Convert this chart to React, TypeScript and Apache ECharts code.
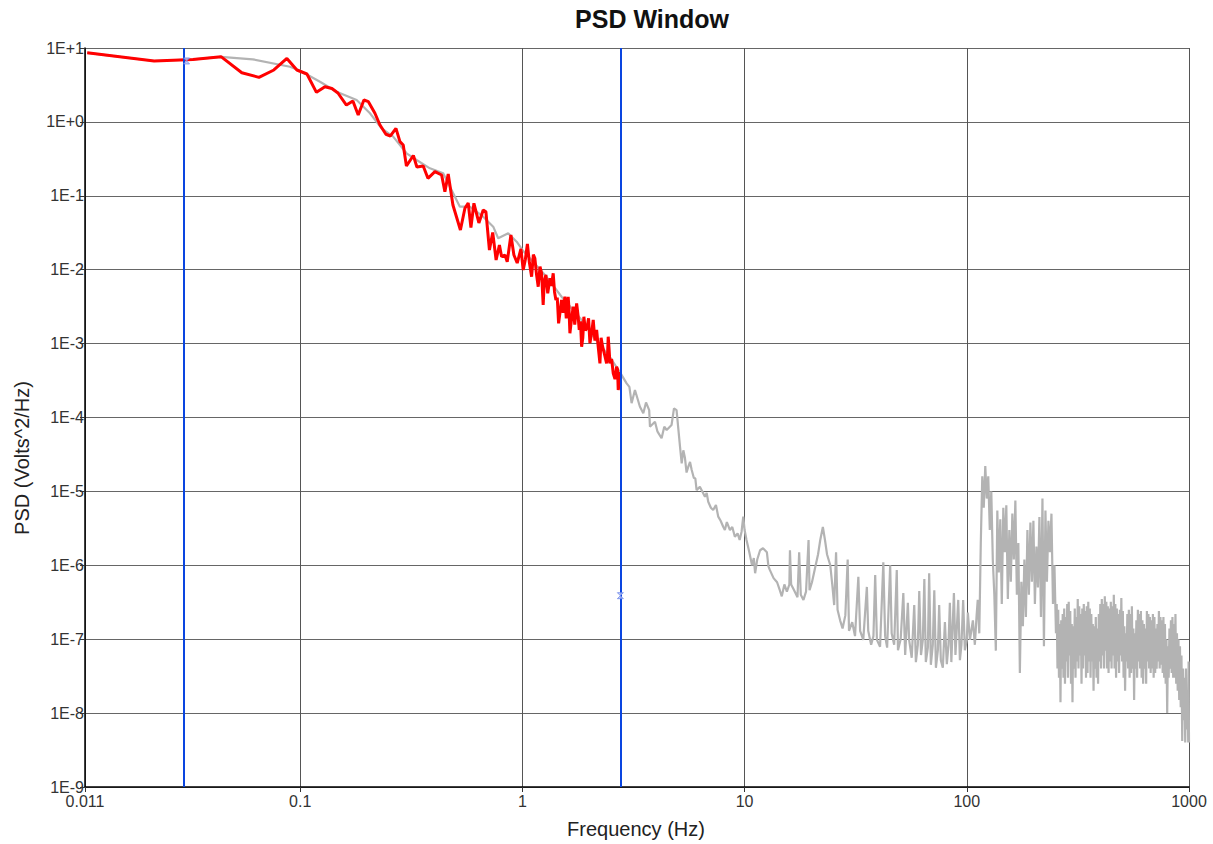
import React, { useEffect, useRef } from "react";
import * as echarts from "echarts";

// Full spectrum (gray), 0.011 – 10 Hz
const grayFreqLow = [
  0.011, 0.022, 0.033, 0.044, 0.0612, 0.0899, 0.1, 0.1227, 0.1458, 0.1794, 0.206, 0.2324, 0.262, 0.301, 0.334, 0.3834,
  0.44, 0.48, 0.523, 0.58, 0.666, 0.739, 0.778, 0.863, 0.942, 1.0, 1.263, 1.501, 1.815, 2.142, 2.476, 2.767,
  2.944, 3.03, 3.1, 3.21, 3.38, 3.5, 3.6, 3.72, 3.75, 3.95, 4.05, 4.23, 4.35, 4.46, 4.69, 4.81,
  4.94, 5.12, 5.21, 5.3, 5.39, 5.48, 5.58, 5.68, 5.78, 5.91, 6.0, 6.08, 6.29, 6.45, 6.63, 6.75,
  6.86, 7.05, 7.22, 7.43, 7.61, 7.8, 8.01, 8.15, 8.32, 8.59, 8.8, 9.04, 9.3, 9.5, 9.69, 9.86,
];
const grayPsdLow = [
  8.6, 6.67, 7.0, 7.6, 7.03, 5.58, 4.93, 3.5, 2.56, 1.98, 1.31, 0.819, 0.631, 0.376, 0.305, 0.2355,
  0.2016, 0.1198, 0.0712, 0.0712, 0.0521, 0.0382, 0.0266, 0.0311, 0.0239, 0.0185, 8.48e-3, 4.31e-3, 2.22e-3, 1.12e-3, 6.59e-4, 3.96e-4,
  2.9e-4, 2.6e-4, 1.56e-4, 2.36e-4, 1.4e-4, 1.14e-4, 1.6e-4, 1.26e-4, 7.51e-5, 8.77e-5, 6.5e-5, 5.23e-5, 7.5e-5, 6.77e-5, 7.91e-5, 1.33e-4,
  1.26e-4, 4.03e-5, 2.4e-5, 3.6e-5, 2.83e-5, 1.8e-5, 2.16e-5, 2.5e-5, 1.95e-5, 1.52e-5, 1.5e-5, 1.04e-5, 1.16e-5, 1.0e-5, 8.48e-6, 9.5e-6,
  7.25e-6, 6.0e-6, 5.6e-6, 6.55e-6, 4.55e-6, 4.0e-6, 3.33e-6, 3.0e-6, 3.85e-6, 3.0e-6, 3.3e-6, 2.44e-6, 2.7e-6, 2.2e-6, 2.85e-6, 4.55e-6,
];

// Full spectrum (gray), 10 – 111 Hz
const grayFreqMid = [
  10.0, 10.2, 10.5, 10.8, 11.0, 11.15, 11.4, 11.74, 12.1, 12.6, 12.8, 13.0, 13.5, 14.0, 14.4, 14.7,
  15.1, 15.5, 15.9, 16.0, 16.2, 16.7, 17.3, 17.6, 17.9, 18.4, 18.9, 19.4, 19.6, 20.1, 20.8, 21.4,
  21.9, 22.5, 23.0, 23.5, 24.3, 24.8, 25.3, 25.8, 26.2, 26.9, 27.6, 28.4, 29.1, 29.5, 30.5, 31.4,
  32.5, 33.1, 34.2, 35.5, 36.0, 37.1, 38.0, 38.7, 39.4, 40.7, 42.1, 42.9, 43.8, 45.2, 45.9, 47.1,
  48.4, 49.0, 50.4, 51.8, 52.8, 54.3, 55.0, 56.5, 58.0, 59.0, 60.2, 61.1, 62.2, 63.4, 64.4, 65.4,
  66.8, 67.7, 68.9, 70.3, 71.4, 72.6, 74.1, 75.1, 76.4, 78.0, 79.7, 81.3, 82.7, 83.9, 85.2, 87.5,
  88.9, 91.5, 93.1, 94.6, 96.3, 98.0, 100, 101.1, 103.3, 106.5, 108.7, 110.7,
];
const grayPsdMid = [
  3.0e-6, 2.2e-6, 1.5e-6, 1.0e-6, 1.25e-6, 7.8e-7, 1.2e-6, 1.6e-6, 1.7e-6, 1.5e-6, 9.7e-7, 8.6e-7, 6.7e-7, 5.9e-7, 4.6e-7, 3.8e-7,
  5.5e-7, 4.4e-7, 5.5e-7, 1.6e-6, 5.5e-7, 4.6e-7, 3.7e-7, 1.5e-6, 4.0e-7, 3.4e-7, 4.4e-7, 2.2e-6, 4.6e-7, 5.9e-7, 9.5e-7, 1.4e-6,
  2.2e-6, 3.3e-6, 2.2e-6, 1.4e-6, 1.0e-6, 5.5e-7, 2.9e-7, 1.5e-6, 2.5e-7, 1.8e-7, 1.4e-7, 2.1e-7, 1.2e-6, 1.3e-7, 1.7e-7, 1.1e-7,
  7.0e-7, 1.3e-7, 9.8e-8, 5.1e-7, 1.3e-7, 8.4e-8, 1.1e-7, 7.4e-7, 9.8e-8, 7.9e-8, 1.1e-6, 1.1e-7, 7.7e-8, 1.0e-6, 1.2e-7, 8.4e-8,
  8.6e-7, 7.1e-8, 1.0e-7, 4.2e-7, 6.1e-8, 3.1e-7, 9.8e-8, 5.6e-8, 2.9e-7, 4.9e-8, 8.4e-8, 4.5e-7, 6.1e-8, 9.8e-8, 6.5e-7, 4.9e-8,
  7.7e-8, 7.8e-7, 4.5e-8, 8.4e-8, 4.6e-7, 4.1e-8, 7.1e-8, 2.9e-7, 5.2e-8, 4.1e-8, 1.7e-7, 4.6e-8, 8.4e-8, 3.1e-7, 4.9e-8, 4.2e-7,
  6.1e-8, 3.4e-7, 5.2e-8, 8.4e-8, 3.4e-7, 7.1e-8, 9.8e-8, 2.3e-7, 9.8e-8, 1.8e-7, 8.4e-8, 2.1e-7,
];

// Full spectrum (gray), 112 – 248 Hz
const grayFreqHigh = [
  112, 113.8, 115.6, 117.4, 119.2, 121.1, 123.0, 124.9, 126.9, 128.9, 130.9, 133.0, 135.1, 137.2, 139.3, 141.5,
  143.7, 146.0, 148.3, 150.6, 153.0, 155.4, 157.8, 160.3, 162.8, 165.4, 168.0, 170.6, 173.3, 176.0, 178.8, 181.6,
  184.5, 187.4, 190.3, 193.3, 196.3, 199.4, 202.5, 205.7, 208.9, 212.2, 215.6, 219.0, 222.4, 225.9, 229.4, 233.0,
  236.7, 240.4, 244.2, 248.0,
];
const grayPsdHigh = [
  3.4e-7, 1.2e-7, 2.0e-6, 1.6e-5, 6e-6, 2.2e-5, 8e-6, 1.6e-5, 3e-6, 1.0e-5, 1.2e-6, 4e-7, 7e-8, 5.5e-6, 8e-7, 4.2e-6,
  3e-7, 6e-6, 1.5e-6, 6.5e-6, 3.5e-7, 3e-6, 6e-7, 5e-6, 1.2e-6, 7.5e-6, 4e-7, 2e-6, 3.5e-8, 6e-7, 1.5e-7, 1.2e-6,
  2e-7, 3e-6, 4e-7, 3.8e-6, 6e-7, 4e-6, 3e-7, 1.8e-6, 5e-7, 4.5e-6, 2e-7, 8e-6, 8e-8, 5.5e-6, 6e-7, 4e-6,
  1.5e-6, 5e-6, 3e-7, 1.0e-6,
];

// Full spectrum (gray), 250 – 1000 Hz
const grayFreqTop = [
  251.9, 253.9, 255.9, 257.9, 259.9, 262.0, 264.0, 266.0, 268.1, 270.2, 272.3, 274.4, 276.6, 278.7, 280.9, 283.1,
  285.3, 287.5, 289.8, 292.1, 294.4, 296.7, 299.0, 301.3, 303.7, 306.1, 308.5, 310.9, 313.3, 315.7, 318.2, 320.7,
  323.2, 325.7, 328.3, 330.9, 333.5, 336.1, 338.7, 341.3, 344.0, 346.7, 349.4, 352.1, 354.9, 357.7, 360.5, 363.3,
  366.2, 369.0, 371.9, 374.8, 377.7, 380.6, 383.6, 386.6, 389.7, 392.7, 395.8, 398.9, 402.0, 405.1, 408.3, 411.5,
  414.7, 417.9, 421.2, 424.5, 427.8, 431.1, 434.5, 437.9, 441.3, 444.7, 448.2, 451.7, 455.3, 458.8, 462.4, 466.0,
  469.7, 473.4, 477.1, 480.8, 484.6, 488.4, 492.2, 496.0, 499.9, 503.8, 507.7, 511.7, 515.7, 519.7, 523.8, 527.9,
  532.0, 536.2, 540.4, 544.6, 548.9, 553.2, 557.5, 561.8, 566.2, 570.6, 575.1, 579.6, 584.1, 588.7, 593.3, 597.9,
  602.6, 607.3, 612.1, 616.9, 621.7, 626.6, 631.5, 636.4, 641.4, 646.4, 651.5, 656.6, 661.7, 666.9, 672.1, 677.3,
  682.6, 687.9, 693.3, 698.7, 704.2, 709.7, 715.3, 720.9, 726.5, 732.2, 737.9, 743.7, 749.5, 755.4, 761.3, 767.2,
  773.2, 779.3, 785.4, 791.5, 797.7, 803.9, 810.2, 816.5, 822.9, 829.3, 835.8, 842.3, 848.9, 855.5, 862.2, 869.0,
  875.8, 882.6, 889.5, 896.5, 903.5, 910.6, 917.7, 924.9, 932.1, 939.4, 946.7, 954.1, 961.6, 969.1, 976.7, 984.3,
  992.0, 996, 1000,
];
const grayPsdTop = [
  1.2e-7, 3e-7, 4e-8, 2.5e-7, 3e-8, 1.6e-7, 1.4e-8, 1.8e-7, 4e-8, 2.2e-7, 3e-8, 2.6e-7, 2.5e-8, 2e-7, 5e-8, 3e-7,
  3e-8, 3.2e-7, 6e-8, 2.4e-7, 2.5e-8, 1.6e-7, 1.4e-8, 1.5e-7, 4e-8, 2.6e-7, 3e-8, 2e-7, 5e-8, 3.5e-7, 4e-8, 2.8e-7,
  6e-8, 2.2e-7, 2.5e-8, 2.6e-7, 4e-8, 3e-7, 6e-8, 2.4e-7, 3e-8, 2.8e-7, 3.5e-8, 3.2e-7, 5e-8, 2.6e-7, 3e-8, 2.2e-7,
  5e-8, 1.6e-7, 2e-8, 1.5e-7, 4e-8, 2e-7, 3e-8, 1.4e-7, 2.5e-8, 2.2e-7, 5e-8, 3e-7, 4e-8, 3.5e-7, 6e-8, 3e-7,
  4e-8, 3.8e-7, 7e-8, 3.2e-7, 4e-8, 2.8e-7, 3.5e-8, 2.6e-7, 5e-8, 3.2e-7, 4e-8, 2.8e-7, 6e-8, 4e-7, 4e-8, 3e-7,
  3e-8, 2.6e-7, 5e-8, 2.2e-7, 3.5e-8, 2.5e-7, 6e-8, 3.6e-7, 5e-8, 2.4e-7, 3e-8, 1.5e-7, 2e-8, 1.2e-7, 5e-8, 2.2e-7,
  4e-8, 2.5e-7, 3e-8, 2.2e-7, 3.5e-8, 2.8e-7, 4e-8, 1.4e-7, 1.5e-8, 1.2e-7, 4e-8, 1.8e-7, 3e-8, 2.5e-7, 5e-8, 2.2e-7,
  4e-8, 2.4e-7, 3e-8, 1.8e-7, 2.5e-8, 1.6e-7, 4e-8, 1.4e-7, 2.5e-8, 2.4e-7, 5e-8, 2.2e-7, 4e-8, 2e-7, 3.5e-8, 1.8e-7,
  4e-8, 2.2e-7, 3e-8, 2e-7, 3.5e-8, 1.4e-7, 4e-8, 1.6e-7, 5e-8, 2.4e-7, 4e-8, 2e-7, 4.5e-8, 1.8e-7, 3.5e-8, 2e-7,
  3e-8, 1.6e-7, 2.5e-8, 1.0e-7, 1e-8, 8e-8, 3e-8, 1.4e-7, 4e-8, 1.8e-7, 3.5e-8, 2e-7, 3e-8, 1.6e-7, 3e-8, 2.2e-7,
  2.5e-8, 1.2e-7, 2e-8, 1.0e-7, 1.5e-8, 8e-8, 1.2e-8, 6e-8, 4.2e-9, 4e-8, 8e-9, 3e-8, 4e-9, 4e-8, 6e-9, 2e-8,
  4e-9, 5e-8, 4e-9,
];

// Windowed portion (red)
const redFreq = [
  0.011, 0.022, 0.0329, 0.044, 0.0546, 0.0652, 0.0761, 0.0871, 0.0966, 0.1072, 0.1183, 0.1292, 0.1389, 0.1478, 0.1614, 0.1726,
  0.1824, 0.1935, 0.2027, 0.2169, 0.2285, 0.243, 0.2547, 0.2697, 0.2811, 0.2908, 0.3006, 0.3231, 0.335, 0.3578, 0.3756, 0.4039,
  0.433, 0.4478, 0.4635, 0.4867, 0.526, 0.5511, 0.5703, 0.5865, 0.605, 0.637, 0.6661, 0.685, 0.7104, 0.7351, 0.7614, 0.788,
  0.8061, 0.8341, 0.8544, 0.8877, 0.9157, 0.9475, 0.9846, 1.0083, 1.03, 1.053, 1.075, 1.1, 1.12, 1.138, 1.158, 1.178,
  1.2, 1.22, 1.24, 1.255, 1.276, 1.3, 1.33, 1.35, 1.376, 1.395, 1.415, 1.435, 1.455, 1.48, 1.501, 1.525,
  1.553, 1.575, 1.607, 1.62, 1.636, 1.665, 1.693, 1.72, 1.754, 1.78, 1.802, 1.825, 1.847, 1.87, 1.891, 1.92,
  1.957, 1.985, 2.013, 2.05, 2.083, 2.12, 2.158, 2.19, 2.233, 2.26, 2.296, 2.34, 2.393, 2.415, 2.433, 2.455,
  2.477, 2.52, 2.563, 2.61, 2.654, 2.68, 2.699, 2.73, 2.761,
];
const redPsd = [
  8.63, 6.67, 6.99, 7.63, 4.63, 4.01, 5.04, 7.21, 5.04, 4.45, 2.51, 2.99, 2.83, 2.46, 1.69, 1.92,
  1.24, 1.98, 1.88, 1.31, 0.908, 0.68, 0.645, 0.819, 0.54, 0.487, 0.253, 0.351, 0.245, 0.253, 0.1725, 0.212,
  0.191, 0.1136, 0.197, 0.0751, 0.0345, 0.0678, 0.0799, 0.0372, 0.0792, 0.0429, 0.0642, 0.0609, 0.01848, 0.0319, 0.01353, 0.0216,
  0.015, 0.0158, 0.01283, 0.0295, 0.0158, 0.01232, 0.01906, 0.0099, 0.0135, 0.0223, 0.0125, 0.00804, 0.016, 0.01427, 0.0085, 0.00589,
  0.011, 0.00894, 0.00333, 0.007, 0.00848, 0.0048, 0.00765, 0.006, 0.00894, 0.005, 0.00389, 0.0042, 0.00188, 0.0028, 0.00389, 0.0026,
  0.00431, 0.0022, 0.00428, 0.003, 0.00138, 0.0022, 0.00316, 0.0018, 0.00351, 0.0024, 0.00153, 0.002, 0.000908, 0.0012, 0.00231, 0.0015,
  0.00169, 0.0022, 0.00101, 0.0014, 0.00209, 0.0011, 0.00153, 0.00095, 0.000541, 0.0012, 0.000908, 0.00072, 0.000541, 0.00068, 0.00124, 0.00085,
  0.000541, 0.00062, 0.000396, 0.00033, 0.000487, 0.00045, 0.000236, 0.0003, 0.000413,
];

// Window cursors
const cursorFreq = [0.0308, 2.76];
const cursorPsd = [6.68, 3.88e-7];

const FONT = "'Liberation Sans', Arial, sans-serif";

function zip(a: number[], b: number[]) {
  return a.map((v, i) => [v, b[i]]);
}

export default function App() {
  const ref = useRef<HTMLDivElement>(null);
  useEffect(() => {
    if (!ref.current) return;
    const chart = echarts.init(ref.current, null, { renderer: "svg" });
    const grayData = [
      ...zip(grayFreqLow, grayPsdLow),
      ...zip(grayFreqMid, grayPsdMid),
      ...zip(grayFreqHigh, grayPsdHigh),
      ...zip(grayFreqTop, grayPsdTop),
    ];
    chart.setOption({
      animation: false,
      backgroundColor: "#ffffff",
      textStyle: { fontFamily: FONT },
      grid: { left: 85, right: 24, top: 48, bottom: 57, containLabel: false },
      graphic: [
        {
          type: "text",
          x: 652,
          y: 19,
          style: { text: "PSD Window", font: `bold 25px ${FONT}`, fill: "#111", align: "center", verticalAlign: "middle" },
        },
        {
          type: "text",
          x: 636,
          y: 829,
          style: { text: "Frequency (Hz)", font: `20px ${FONT}`, fill: "#222", align: "center", verticalAlign: "middle" },
        },
        {
          type: "text",
          x: 22,
          y: 458,
          rotation: Math.PI / 2,
          style: { text: "PSD (Volts^2/Hz)", font: `20px ${FONT}`, fill: "#222", align: "center", verticalAlign: "middle" },
        },
      ],
      xAxis: {
        type: "log",
        logBase: 10,
        min: 0.01075,
        max: 1000,
        splitNumber: 5,
        axisLine: { show: true, lineStyle: { color: "#000", width: 1.5 } },
        axisTick: { show: true, length: 5, lineStyle: { color: "#333" } },
        axisLabel: {
          color: "#333",
          fontSize: 16,
          fontFamily: FONT,
          margin: 6,
          showMinLabel: true,
          showMaxLabel: true,
          formatter: (v: number) => String(parseFloat(Number(v).toPrecision(2))),
        },
        splitLine: { show: true, lineStyle: { color: "#555", width: 1 } },
      },
      yAxis: {
        type: "log",
        logBase: 10,
        min: 1e-9,
        max: 10,
        splitNumber: 10,
        axisLine: { show: true, lineStyle: { color: "#000", width: 1.5 } },
        axisTick: { show: true, length: 5, lineStyle: { color: "#333" } },
        axisLabel: {
          color: "#333",
          fontSize: 16,
          fontFamily: FONT,
          margin: 1,
          showMinLabel: true,
          showMaxLabel: true,
          formatter: (v: number) => {
            const e = Math.round(Math.log10(v));
            return "1E" + (e >= 0 ? "+" : "") + e;
          },
        },
        splitLine: { show: true, lineStyle: { color: "#666", width: 1 } },
      },
      series: [
        {
          name: "Full PSD",
          type: "line",
          data: grayData,
          showSymbol: false,
          symbol: "none",
          lineStyle: { color: "#b3b3b3", width: 2.2 },
          z: 2,
        },
        {
          name: "Window PSD",
          type: "line",
          data: zip(redFreq, redPsd),
          showSymbol: false,
          symbol: "none",
          lineStyle: { color: "#ff0000", width: 3 },
          z: 3,
        },
        {
          name: "Cursors",
          type: "scatter",
          data: zip(cursorFreq, cursorPsd),
          symbol: "path://M0,0L10,0L0,10L10,10Z",
          symbolSize: 6,
          itemStyle: { color: "#b7c4f7", borderColor: "#6f88ea", borderWidth: 1 },
          z: 6,
          markLine: {
            silent: true,
            symbol: "none",
            label: { show: false },
            lineStyle: { color: "#0a45e0", width: 2, type: "solid" },
            data: cursorFreq.map((f) => ({ xAxis: f })),
          },
        },
      ],
    });
    return () => chart.dispose();
  }, []);
  return <div ref={ref} style={{ position: "fixed", left: 0, top: 0, width: 1213, height: 844 }} />;
}
